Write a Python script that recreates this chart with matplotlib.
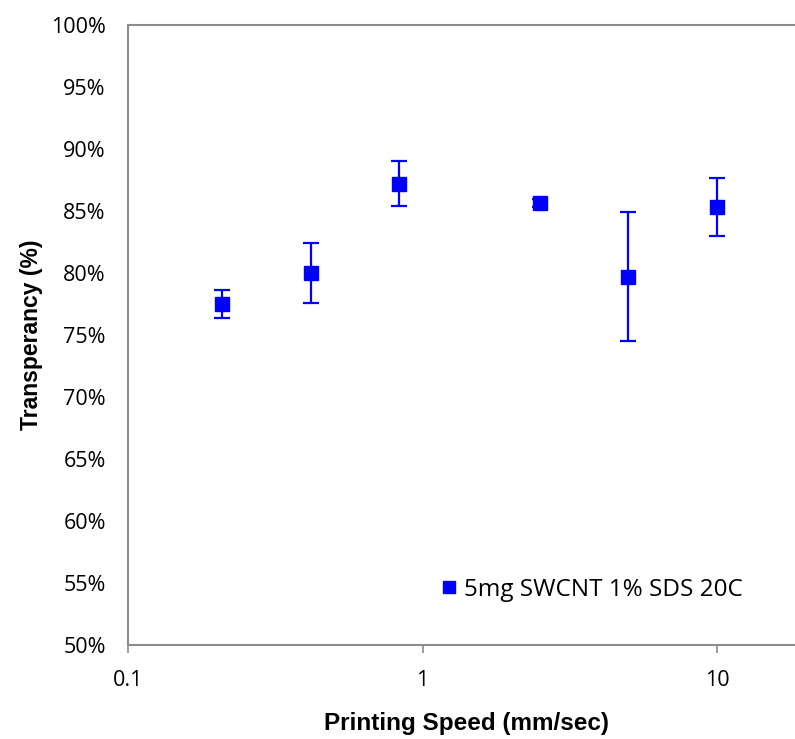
import matplotlib.pyplot as plt
from matplotlib.lines import Line2D
from matplotlib.ticker import FixedLocator, FuncFormatter

# printing speed (mm/sec) and transparency (%)
speed = [10 / 48, 10 / 24, 10 / 12, 2.5, 5, 10]
transp = [77.5, 80.0, 87.2, 85.65, 79.7, 85.3]
err = [1.1, 2.4, 1.8, 0.3, 5.2, 2.35]
series_name = "5mg SWCNT 1% SDS 20C"
yticks = list(range(50, 101, 5))
xticks = [0.1, 1, 10]

tick_font = ['Open Sans', 'DejaVu Sans']
label_font = ['Liberation Sans', 'DejaVu Sans']
blue = '#0000ff'

fig = plt.figure(figsize=(7.95, 7.39), dpi=100)
ax = fig.add_axes([128 / 795, (739 - 645) / 739, 677.7 / 795, 620 / 739])

ax.errorbar(speed, transp, yerr=err, fmt='s', color=blue, ms=10,
            elinewidth=1.6, capsize=5.5, capthick=1.6)

ax.set_xscale('log')
ax.set_xlim(0.1, 20)
ax.set_ylim(50, 100)
ax.xaxis.set_major_locator(FixedLocator(xticks))
ax.xaxis.set_minor_locator(FixedLocator([]))
ax.xaxis.set_major_formatter(FuncFormatter(lambda v, p: f"{v:g}"))
ax.set_yticks(yticks)
ax.set_yticklabels([f"{v}%" for v in yticks])

for s in ax.spines.values():
    s.set_color('#8c8c8c')
    s.set_linewidth(1.5)
ax.tick_params(axis='x', length=6, width=1.2, color='#8c8c8c', pad=12)
ax.tick_params(axis='y', length=0, pad=16)
for lab in ax.get_xticklabels() + ax.get_yticklabels():
    lab.set_family(tick_font)
    lab.set_fontsize(15.5)

ax.set_xlabel("Printing Speed (mm/sec)", fontsize=17.5, fontweight='bold',
              family=label_font, labelpad=15)
ax.set_ylabel("Transperancy (%)", fontsize=16.5, fontweight='bold',
              family=label_font, labelpad=6)

handle = Line2D([], [], marker='s', ls='none', color=blue, ms=8)
ax.legend([handle], [series_name], loc='center left', bbox_to_anchor=(0.423, 0.089),
          frameon=False, handletextpad=0.15, handlelength=1.0,
          prop={'family': tick_font, 'size': 17.5})

fig.savefig("out.png", dpi=100)
